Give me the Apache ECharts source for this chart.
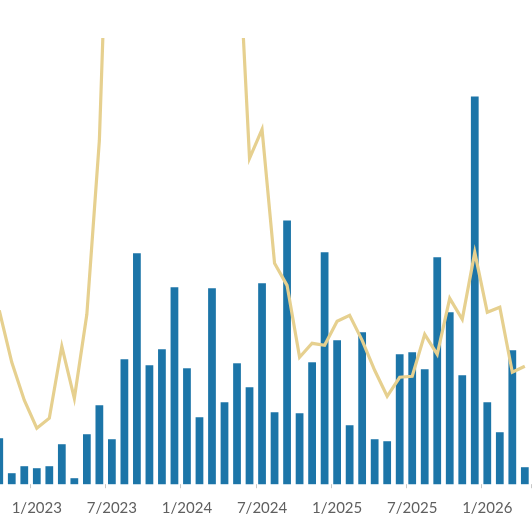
<!DOCTYPE html>
<html>
<head>
<meta charset="utf-8">
<script src="https://cdn.jsdelivr.net/npm/echarts@6/dist/echarts.min.js"></script>
<style>
html,body{margin:0;padding:0;background:#fff;overflow:hidden;width:532px;height:532px;position:relative;}
#chart{position:absolute;left:-6.55px;top:0;width:538.55px;height:532px;}
</style>
</head>
<body>
<div id="chart"></div>
<script>
const months = [
  "10/2022","11/2022","12/2022",
  "1/2023","2/2023","3/2023","4/2023","5/2023","6/2023","7/2023","8/2023","9/2023","10/2023","11/2023","12/2023",
  "1/2024","2/2024","3/2024","4/2024","5/2024","6/2024","7/2024","8/2024","9/2024","10/2024","11/2024","12/2024",
  "1/2025","2/2025","3/2025","4/2025","5/2025","6/2025","7/2025","8/2025","9/2025","10/2025","11/2025","12/2025",
  "1/2026","2/2026","3/2026","4/2026"
];
const barValues = [
  46, 11, 18,
  16, 18, 40, 6, 50, 79, 45, 125, 231, 119, 135, 197,
  116, 67, 196, 82, 121, 97, 201, 72, 264, 71, 122, 232,
  144, 59, 152, 45, 43, 130, 132, 115, 227, 172, 109, 388,
  82, 52, 134, 17
];
const lineValues = [
  174, 122, 84,
  56, 66, 138, 86, 170, 344, 714, 900, 1000, 980, 950, 900,
  850, 780, 700, 640, 572, 326, 355, 221, 199, 127, 141, 139,
  163, 169, 144, 114, 88, 107, 108, 150, 130, 186, 165, 232,
  172, 177, 112, 118
];
const shownLabels = (idx, val) => /^(1|7)\//.test(val);

const chart = echarts.init(document.getElementById('chart'), null, {renderer: 'canvas'});
chart.setOption({
  animation: false,
  backgroundColor: '#ffffff',
  grid: {left: 0, right: 0.92, top: 39.5, bottom: 47.8, containLabel: false},
  xAxis: {
    type: 'category',
    data: months,
    boundaryGap: true,
    axisLine: {show: false},
    axisTick: {show: true, interval: shownLabels, length: 4, lineStyle: {color: '#c8c8c8', width: 1}},
    axisLabel: {
      interval: shownLabels,
      margin: 16,
      color: '#5f5f5f',
      fontFamily: 'Lato',
      fontSize: 15
    },
    splitLine: {show: false}
  },
  yAxis: {
    type: 'value',
    min: 0,
    max: 445,
    show: false,
    splitLine: {show: false}
  },
  series: [
    {
      type: 'bar',
      data: barValues,
      barWidth: '62%',
      itemStyle: {color: '#1C75A8'},
      z: 2
    },
    {
      type: 'line',
      data: lineValues,
      showSymbol: false,
      symbol: 'none',
      clip: true,
      lineStyle: {color: '#E6D08F', width: 3.2, join: 'miter'},
      z: 3
    }
  ]
});
</script>
</body>
</html>
